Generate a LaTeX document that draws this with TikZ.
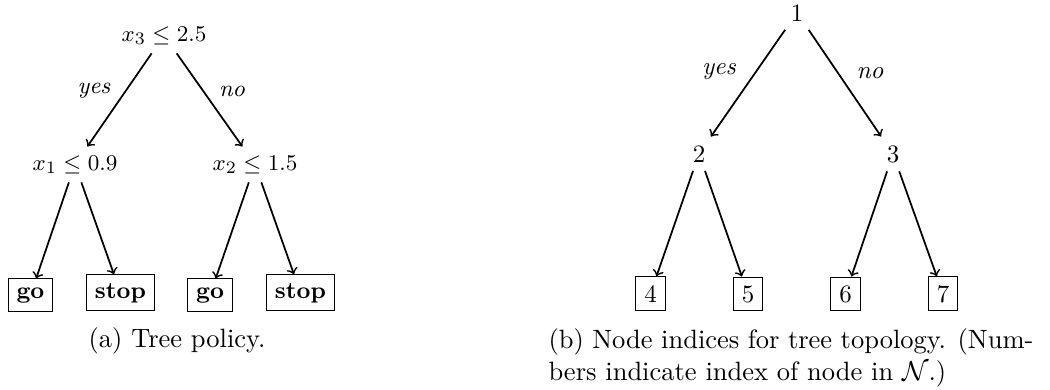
\documentclass[tikz,border=0pt]{standalone}
\begin{document}
\begin{tikzpicture}[x=0.4pt,y=-0.4pt,
  lt/.style={font=\fontsize{9.4pt}{11pt}\selectfont, anchor=base},
  leafL/.style={draw, line width=0.4pt, anchor=base, font=\fontsize{9.4pt}{11pt}\selectfont\bfseries},
  rt/.style={anchor=base},
  leafR/.style={draw, line width=0.4pt, anchor=base},
  arr/.style={->, line width=0.7pt},
  lblL/.style={font=\fontsize{9.4pt}{11pt}\selectfont\itshape},
  lblR/.style={font=\itshape},
  capt/.style={font=\fontsize{10.6pt}{12.8pt}\selectfont}]
\useasboundingbox (0,0) rectangle (1050,389);
% left tree
\node[lt] (r) at (164,41) {$x_3 \le 2.5$};
\node[lt] (a) at (75,170) {$x_1 \le 0.9$};
\node[lt] (b) at (255,170) {$x_2 \le 1.5$};
\node[leafL] (l1) at (30.5,298) {go};
\node[leafL] (l2) at (120.5,298) {stop};
\node[leafL] (l3) at (210,298) {go};
\node[leafL] (l4) at (300.5,298) {stop};
\draw[arr] (r) -- (a) node[lblL, at={(94,91)}] {yes};
\draw[arr] (r) -- (b) node[lblL, at={(232,91)}] {no};
\draw[arr] (a) -- (l1);
\draw[arr] (a) -- (l2);
\draw[arr] (b) -- (l3);
\draw[arr] (b) -- (l4);
\node[capt, anchor=base] (ca) at (177,347) {(a) Tree policy.};
% right tree
\node[rt] (n1) at (797,21) {1};
\node[rt] (n2) at (699,162) {2};
\node[rt] (n3) at (893,162) {3};
\node[leafR] (n4) at (650.5,302) {4};
\node[leafR] (n5) at (748,302) {5};
\node[leafR] (n6) at (845.5,302) {6};
\node[leafR] (n7) at (943,302) {7};
\draw[arr] (n1) -- (n2) node[lblR, at={(719,72)}] {yes};
\draw[arr] (n1) -- (n3) node[lblR, at={(870,73)}] {no};
\draw[arr] (n2) -- (n4);
\draw[arr] (n2) -- (n5);
\draw[arr] (n3) -- (n6);
\draw[arr] (n3) -- (n7);
\node[capt, anchor=north west, text width=194pt, align=justify, inner sep=0pt] (cb) at (548,328)
  {(b) Node indices for tree topology. (Num-\linebreak bers indicate index of node in $\mathcal{N}$.)};
\end{tikzpicture}
\end{document}
